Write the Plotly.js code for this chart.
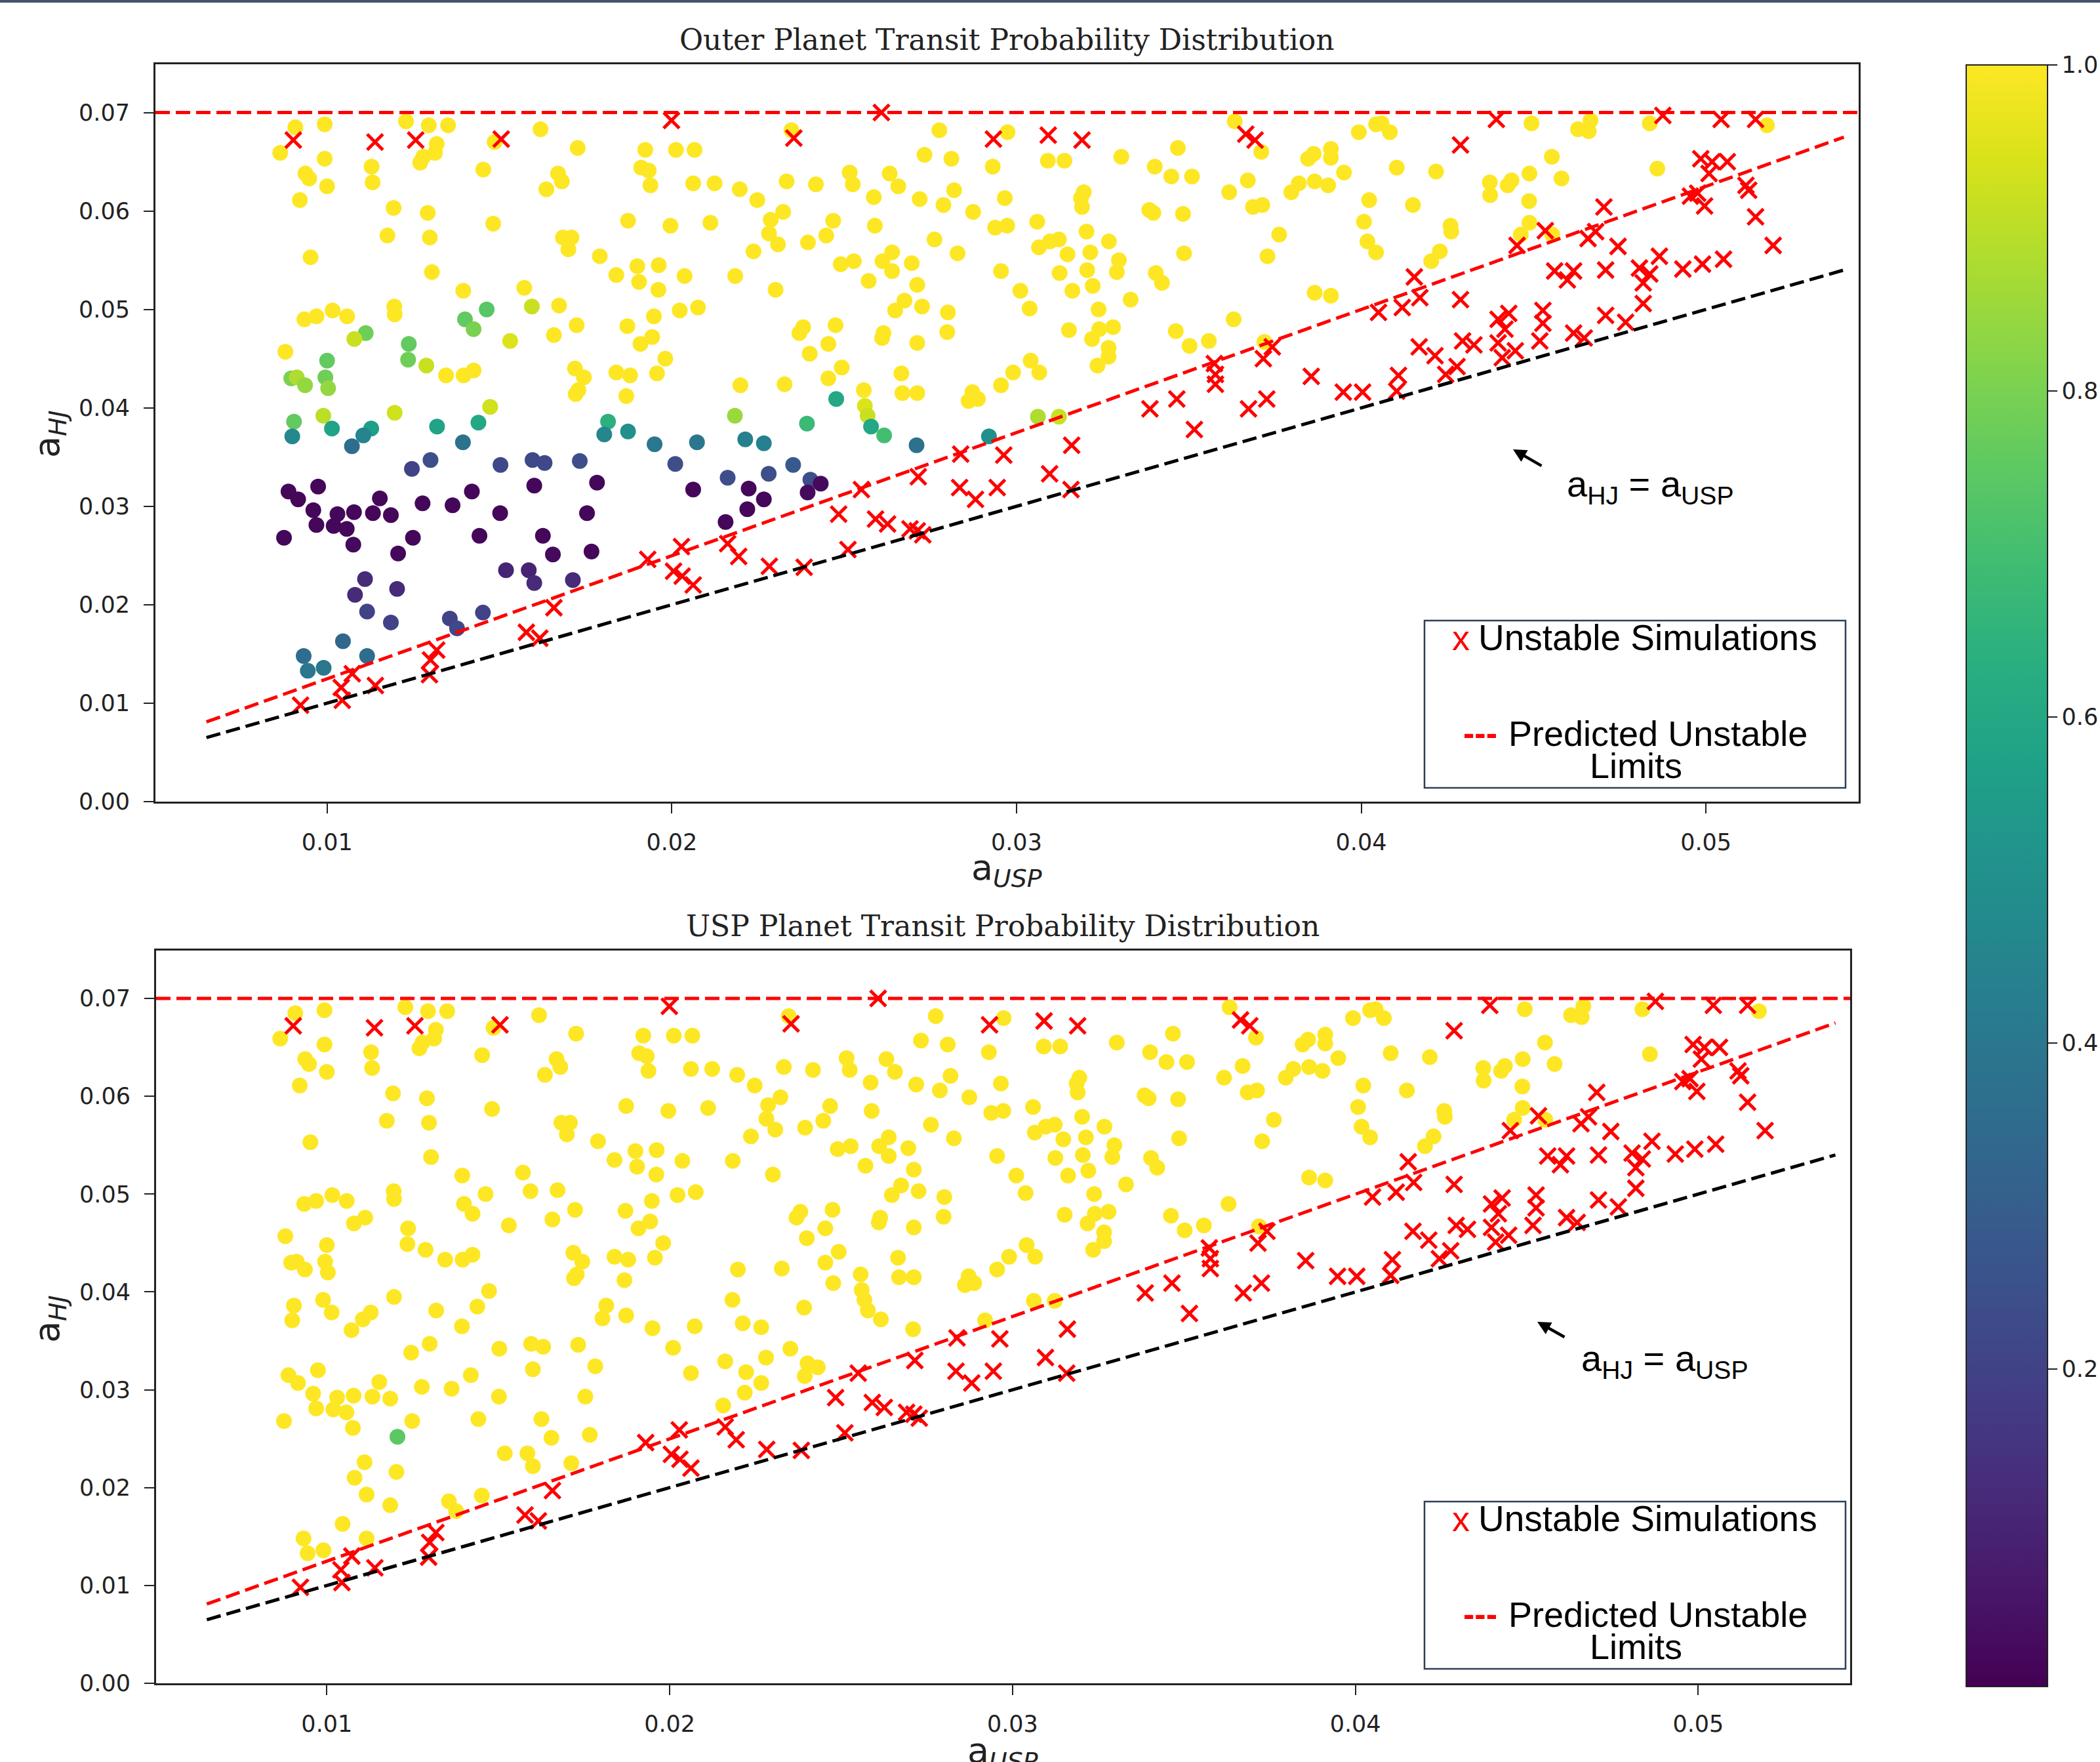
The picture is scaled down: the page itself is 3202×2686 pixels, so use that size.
<!DOCTYPE html>
<html>
<head>
<meta charset="utf-8">
<script src="https://cdn.plot.ly/plotly-3.0.1.min.js"></script>
<style>
  html, body { margin: 0; padding: 0; background: #ffffff; }
  #chart { width: 3202px; height: 2686px; }
</style>
</head>
<body>
<div id="chart"></div>
<script>
// ---------------- DATA ----------------
// Stable simulations (circles): a_USP, a_HJ
const stableX = [
0.00908,0.00993,0.00864,0.00993,0.00937,0.00948,0.01000,0.00921,0.00952,0.01129,
0.01132,0.01229,0.01295,0.01351,0.01318,0.01313,0.01279,0.01270,0.01486,0.01453,
0.01619,0.01727,0.01670,0.01681,0.01636,0.01923,0.02012,0.02066,0.01911,0.01933,
0.01938,0.02062,0.02124,0.01193,0.01292,0.01175,0.01298,0.01482,0.01304,0.01873,
0.01996,0.02112,0.01684,0.01709,0.01700,0.01791,0.01839,0.01900,0.01905,0.01962,
0.01961,0.02037,0.01395,0.01572,0.01673,0.00934,0.00969,0.01016,0.01058,0.01195,
0.01196,0.01724,0.01658,0.01871,0.01948,0.02023,0.02076,0.01943,0.01909,0.01981,
0.00879,0.01345,0.01396,0.01425,0.01719,0.01745,0.01729,0.01721,0.01839,0.01879,
0.01957,0.01868,
0.02347,0.02776,0.02974,0.03633,0.03710,0.02733,0.02811,0.02931,0.03091,0.03139,
0.03304,0.03468,0.03401,0.03449,0.03509,0.03671,0.03617,0.03686,0.03713,0.03728,
0.02197,0.02248,0.02333,0.02418,0.02516,0.02525,0.02632,0.02657,0.02586,0.02719,
0.02819,0.02788,0.02874,0.02966,0.03195,0.03187,0.03190,0.03385,0.03397,0.03483,
0.02323,0.02287,0.02282,0.02308,0.02237,0.02468,0.02448,0.02395,0.02589,0.02762,
0.02829,0.02938,0.02973,0.03060,0.03065,0.03097,0.03123,0.03148,0.03203,0.03214,
0.03268,0.03486,0.02184,0.02301,0.02490,0.02528,0.02611,0.02639,0.02639,0.02696,
0.02571,0.02712,0.02955,0.03011,0.03125,0.03205,0.03221,0.03162,0.03297,0.03291,
0.03404,0.03422,0.02675,0.02648,0.02726,0.02801,0.02799,0.03038,0.03238,0.03331,
0.03630,0.02370,0.02381,0.02475,0.02614,0.02610,0.02712,0.02454,0.02400,0.02493,
0.02454,0.03152,0.03219,0.03240,0.03280,0.03267,0.03267,0.03235,0.03462,0.03502,
0.03558,0.03719,0.03041,0.03066,0.02990,0.02955,0.02199,0.02327,0.02557,0.02666,
0.02669,0.02712,0.02872,0.02861,0.02888,
0.03993,0.04043,0.04059,0.04083,0.04494,0.04629,0.04665,0.04660,0.04837,0.05177,
0.03846,0.03862,0.03912,0.03912,0.03950,0.04103,0.04217,0.04553,0.04859,0.03797,
0.03819,0.03865,0.03904,0.04023,0.04150,0.04373,0.04374,0.04425,0.04436,0.04488,
0.04581,0.04487,0.03762,0.04008,0.04018,0.04043,0.04259,0.04261,0.04488,0.04463,
0.04554,0.04228,0.04203,0.03865,0.03912,
0.01112,0.01079,0.01237,0.01235,0.01288,0.01000,0.00995,0.01003,0.00896,0.00912,
0.00936,0.01400,0.01425,0.01463,0.01594,0.01531,0.01473,0.01196,0.00989,0.00904,
0.01815,0.02183,0.01014,0.00899,0.01128,0.01105,0.01319,0.01439,0.01072,0.01394,
0.01804,0.01873,0.01950,0.02073,0.02560,0.02568,0.02578,0.02616,0.02477,0.02392,
0.02213,0.02267,0.02710,0.02920,0.03062,0.03123,0.01246,0.01300,0.01503,0.01596,
0.01631,0.01733,0.02010,0.02162,0.02281,0.02352,0.02402,0.01116,0.01185,0.01356,
0.01377,0.01452,0.01046,0.00932,0.00944,0.00990,0.01116,0.01110,0.01081,0.01203,
0.01519,0.01585,0.01601,0.01713,
0.00888,0.00974,0.00916,0.00960,0.00969,0.01030,0.01078,0.01019,0.01057,0.01153,
0.01133,0.01185,0.01076,0.00875,0.01277,0.01364,0.01420,0.01249,0.01502,0.01442,
0.01601,0.01783,0.01754,0.01626,0.01655,0.01767,0.02062,0.02156,0.02432,0.02394,
0.02223,0.02267,0.02219,0.01206
];
const stableY = [
0.0685,0.0688,0.0659,0.0653,0.0638,0.0633,0.0625,0.0611,0.0553,0.0645,
0.0629,0.0691,0.0687,0.0687,0.0668,0.0659,0.0655,0.0649,0.0670,0.0642,
0.0683,0.0664,0.0638,0.0630,0.0622,0.0662,0.0662,0.0662,0.0644,0.0641,
0.0626,0.0628,0.0628,0.0603,0.0598,0.0575,0.0573,0.0587,0.0538,0.0590,
0.0585,0.0588,0.0573,0.0573,0.0561,0.0554,0.0535,0.0544,0.0528,0.0545,
0.0520,0.0534,0.0519,0.0522,0.0504,0.0490,0.0493,0.0499,0.0493,0.0503,
0.0495,0.0484,0.0474,0.0483,0.0493,0.0499,0.0502,0.0472,0.0465,0.0450,
0.0457,0.0433,0.0433,0.0438,0.0440,0.0431,0.0418,0.0414,0.0436,0.0433,
0.0435,0.0412,
0.0682,0.0682,0.0680,0.0691,0.0660,0.0657,0.0653,0.0645,0.0651,0.0651,
0.0655,0.0664,0.0645,0.0635,0.0635,0.0631,0.0619,0.0604,0.0606,0.0554,
0.0622,0.0611,0.0630,0.0627,0.0639,0.0627,0.0638,0.0625,0.0614,0.0612,
0.0621,0.0606,0.0599,0.0613,0.0619,0.0613,0.0604,0.0601,0.0598,0.0597,
0.0599,0.0591,0.0577,0.0566,0.0559,0.0590,0.0575,0.0568,0.0585,0.0571,
0.0557,0.0583,0.0585,0.0589,0.0563,0.0569,0.0571,0.0556,0.0579,0.0558,
0.0569,0.0557,0.0534,0.0520,0.0546,0.0549,0.0549,0.0558,0.0539,0.0547,
0.0529,0.0525,0.0539,0.0519,0.0537,0.0540,0.0524,0.0519,0.0550,0.0538,
0.0537,0.0527,0.0509,0.0499,0.0503,0.0497,0.0477,0.0501,0.0500,0.0510,
0.0490,0.0476,0.0482,0.0484,0.0476,0.0471,0.0466,0.0465,0.0455,0.0441,
0.0430,0.0479,0.0470,0.0480,0.0482,0.0461,0.0452,0.0443,0.0478,0.0463,
0.0468,0.0467,0.0448,0.0436,0.0436,0.0423,0.0423,0.0424,0.0418,0.0435,
0.0415,0.0415,0.0416,0.0407,0.0409,
0.0680,0.0688,0.0689,0.0680,0.0689,0.0683,0.0692,0.0681,0.0689,0.0687,
0.0653,0.0658,0.0663,0.0654,0.0639,0.0644,0.0640,0.0655,0.0643,0.0619,
0.0628,0.0630,0.0626,0.0611,0.0606,0.0629,0.0616,0.0626,0.0631,0.0638,
0.0633,0.0610,0.0576,0.0589,0.0569,0.0558,0.0585,0.0579,0.0588,0.0576,
0.0576,0.0559,0.0549,0.0517,0.0514,
0.0476,0.0470,0.0465,0.0449,0.0443,0.0448,0.0431,0.0420,0.0430,0.0431,
0.0423,0.0490,0.0480,0.0500,0.0503,0.0468,0.0401,0.0395,0.0392,0.0386,
0.0386,0.0392,0.0379,0.0371,0.0379,0.0372,0.0381,0.0385,0.0361,0.0365,
0.0373,0.0376,0.0363,0.0365,0.0402,0.0392,0.0381,0.0372,0.0409,0.0384,
0.0368,0.0364,0.0362,0.0371,0.0391,0.0391,0.0338,0.0347,0.0342,0.0347,
0.0344,0.0346,0.0343,0.0329,0.0333,0.0342,0.0327,0.0193,0.0182,0.0186,
0.0176,0.0192,0.0163,0.0148,0.0133,0.0136,0.0148,0.0226,0.0210,0.0216,
0.0235,0.0235,0.0222,0.0225,
0.0315,0.0320,0.0307,0.0296,0.0281,0.0292,0.0294,0.0280,0.0277,0.0308,
0.0293,0.0291,0.0261,0.0268,0.0303,0.0301,0.0315,0.0268,0.0293,0.0270,
0.0321,0.0324,0.0293,0.0270,0.0251,0.0254,0.0317,0.0284,0.0323,0.0314,
0.0318,0.0307,0.0297,0.0252
];
// Outer planet transit probability (top panel colour)
const outerProb = [
1,1,1,1,1,1,1,1,1,1,1,1,1,1,1,1,1,1,1,1,
1,1,1,1,1,1,1,1,1,1,1,1,1,1,1,1,1,1,1,1,
1,1,1,1,1,1,1,1,1,1,1,1,1,1,1,1,1,1,1,1,
1,1,1,1,1,1,1,1,1,1,1,1,1,1,1,1,1,1,1,1,
1,1,1,1,1,1,1,1,1,1,1,1,1,1,1,1,1,1,1,1,
1,1,1,1,1,1,1,1,1,1,1,1,1,1,1,1,1,1,1,1,
1,1,1,1,1,1,1,1,1,1,1,1,1,1,1,1,1,1,1,1,
1,1,1,1,1,1,1,1,1,1,1,1,1,1,1,1,1,1,1,1,
1,1,1,1,1,1,1,1,1,1,1,1,1,1,1,1,1,1,1,1,
1,1,1,1,1,1,1,1,1,1,1,1,1,1,1,1,1,1,1,1,
1,1,1,1,1,1,1,1,1,1,1,1,1,1,1,1,1,1,1,1,
1,1,1,1,1,1,1,1,1,1,1,1,1,1,1,1,1,1,1,1,
1,1,1,1,1,1,1,1,1,1,1,1,
0.78,0.92,0.76,0.78,0.92,0.76,0.78,0.84,0.80,0.88,
0.84,0.76,0.80,0.74,0.92,0.95,0.93,0.93,0.90,0.76,
0.64,0.85,0.58,0.47,0.56,0.45,0.58,0.60,0.36,0.38,
0.46,0.50,0.40,0.40,0.95,0.92,0.60,0.70,0.60,0.68,
0.44,0.44,0.38,0.50,0.88,0.92,0.20,0.24,0.22,0.22,
0.22,0.24,0.24,0.24,0.24,0.28,0.24,0.20,0.20,0.20,
0.22,0.20,0.34,0.36,0.40,0.40,0.36,0.12,0.12,0.12,
0.10,0.10,0.12,0.12,
0.02,0.02,0.02,0.02,0.02,0.02,0.02,0.02,0.02,0.02,
0.02,0.02,0.03,0.02,0.02,0.02,0.02,0.02,0.02,0.02,
0.02,0.02,0.02,0.02,0.03,0.02,0.02,0.02,0.03,0.03,
0.02,0.02,0.02,0.02
];
// USP planet transit probability (bottom panel colour)
const uspProb = [
1,1,1,1,1,1,1,1,1,1,1,1,1,1,1,1,1,1,1,1,
1,1,1,1,1,1,1,1,1,1,1,1,1,1,1,1,1,1,1,1,
1,1,1,1,1,1,1,1,1,1,1,1,1,1,1,1,1,1,1,1,
1,1,1,1,1,1,1,1,1,1,1,1,1,1,1,1,1,1,1,1,
1,1,1,1,1,1,1,1,1,1,1,1,1,1,1,1,1,1,1,1,
1,1,1,1,1,1,1,1,1,1,1,1,1,1,1,1,1,1,1,1,
1,1,1,1,1,1,1,1,1,1,1,1,1,1,1,1,1,1,1,1,
1,1,1,1,1,1,1,1,1,1,1,1,1,1,1,1,1,1,1,1,
1,1,1,1,1,1,1,1,1,1,1,1,1,1,1,1,1,1,1,1,
1,1,1,1,1,1,1,1,1,1,1,1,1,1,1,1,1,1,1,1,
1,1,1,1,1,1,1,1,1,1,1,1,1,1,1,1,1,1,1,1,
1,1,1,1,1,1,1,1,1,1,1,1,1,1,1,1,1,1,1,1,
1,1,1,1,1,1,1,1,1,1,1,1,1,1,1,1,1,1,1,1,
1,1,1,1,1,1,1,1,1,1,1,1,1,1,1,1,1,1,1,1,
1,1,1,1,1,1,1,1,1,1,1,1,1,1,1,1,1,1,1,1,
1,1,1,1,1,1,1,1,1,1,1,1,1,1,1,1,1,1,1,1,
1,1,1,1,1,1,1,1,1,1,1,1,1,1,1,1,1,1,1,1,
1,1,1,1,1,1,1,1,1,1,1,1,1,1,1,1,1,1,1,0.75
];
// Unstable simulations (red crosses)
const unstableX = [
0.00902,0.01139,0.01257,0.01505,0.01999,0.02608,0.02354,0.02933,0.03092,0.03190,
0.03665,0.03692,0.03742,0.03716,0.03574,0.03577,0.03577,0.03387,0.03465,0.03673,
0.03726,0.03516,0.03160,0.00923,0.01041,0.01044,0.01073,0.01140,0.01297,0.01300,
0.01318,0.01578,0.01617,0.01658,0.01930,0.02005,0.02030,0.02062,0.02028,0.02162,
0.02194,0.02283,0.02384,0.02511,0.02484,0.02550,0.02591,0.02626,0.02691,0.02712,
0.02728,0.02715,0.02838,0.02963,0.02835,0.02881,0.02944,0.03096,0.03158,0.04392,
0.04875,0.05044,0.05144,0.04288,0.04985,0.05018,0.05062,0.05009,0.05116,0.05124,
0.04955,0.04976,0.04996,0.05144,0.05195,0.04704,0.04534,0.04680,0.04658,0.04452,
0.04745,0.04865,0.04933,0.04990,0.05051,0.04561,0.04616,0.04598,0.04709,0.04807,
0.04837,0.04818,0.04818,0.04154,0.04170,0.04119,0.04050,0.04288,0.04397,0.04428,
0.04417,0.04527,0.04527,0.04709,0.04767,0.04168,0.04214,0.04294,0.04327,0.04397,
0.04447,0.04409,0.04518,0.04616,0.04647,0.04245,0.04278,0.04108,0.04103,0.03855,
0.03948,0.04004
];
const unstableY = [
0.0672,0.0670,0.0672,0.0673,0.0692,0.0700,0.0674,0.0673,0.0677,0.0672,
0.0678,0.0672,0.0462,0.0450,0.0445,0.0434,0.0424,0.0399,0.0409,0.0399,
0.0409,0.0378,0.0362,0.0098,0.0116,0.0103,0.0130,0.0118,0.0129,0.0144,
0.0154,0.0172,0.0166,0.0197,0.0246,0.0234,0.0229,0.0220,0.0259,0.0262,
0.0249,0.0239,0.0238,0.0256,0.0292,0.0317,0.0287,0.0282,0.0277,0.0275,
0.0271,0.0330,0.0353,0.0352,0.0319,0.0307,0.0319,0.0333,0.0317,0.0693,
0.0697,0.0693,0.0693,0.0667,0.0653,0.0650,0.0650,0.0638,0.0626,0.0621,
0.0615,0.0618,0.0605,0.0594,0.0565,0.0604,0.0580,0.0579,0.0572,0.0565,
0.0564,0.0554,0.0541,0.0546,0.0551,0.0539,0.0539,0.0530,0.0540,0.0542,
0.0536,0.0527,0.0506,0.0533,0.0512,0.0502,0.0497,0.0510,0.0490,0.0496,
0.0480,0.0499,0.0486,0.0494,0.0487,0.0462,0.0453,0.0468,0.0464,0.0466,
0.0458,0.0451,0.0468,0.0476,0.0471,0.0434,0.0442,0.0433,0.0417,0.0432,
0.0416,0.0416
];
// Reference lines
const lineX = [0.0065, 0.054];
const equalY = [0.0065, 0.054];          // a_HJ = a_USP
const predictedY = [0.0081, 0.0675];     // predicted unstable limit
const capX = [0.00502, 0.05443];
const capY = [0.07, 0.07];               // upper predicted limit
// Ticks
const xTickVals = [0.01, 0.02, 0.03, 0.04, 0.05];
const xTickText = ["0.01", "0.02", "0.03", "0.04", "0.05"];
const yTickVals = [0.00, 0.01, 0.02, 0.03, 0.04, 0.05, 0.06, 0.07];
const yTickText = ["0.00", "0.01", "0.02", "0.03", "0.04", "0.05", "0.06", "0.07"];
const cbTickVals = [0.2, 0.4, 0.6, 0.8, 1.0];
const cbTickText = ["0.2", "0.4", "0.6", "0.8", "1.0"];
// Texts
const titles = ["Outer Planet Transit Probability Distribution", "USP Planet Transit Probability Distribution"];
const legendTexts = ["Unstable Simulations", "Predicted Unstable", "Limits"];

// ---------------- LAYOUT HELPERS ----------------
const W = 3202, H = 2686;
const px = X => X / W;
const py = Y => 1 - Y / H;

const tickFont = { family: "DejaVu Sans", size: 35, color: "#222222" };
const sansFont = "Liberation Sans, Arial, sans-serif";

function axisX(domain, anchor) {
  return {
    domain: domain, anchor: anchor, range: [0.00502, 0.05443],
    tickmode: "array", tickvals: xTickVals, ticktext: xTickText,
    ticks: "outside", ticklen: 15, tickwidth: 2, tickcolor: "#222",
    ticklabelstandoff: 14,
    showline: true, linecolor: "#222", linewidth: 3, mirror: true,
    showgrid: false, zeroline: false, tickfont: tickFont, automargin: false
  };
}
function axisY(domain, anchor) {
  return {
    domain: domain, anchor: anchor, range: [0, 0.0749],
    tickmode: "array", tickvals: yTickVals, ticktext: yTickText,
    ticks: "outside", ticklen: 15, tickwidth: 2, tickcolor: "#222",
    ticklabelstandoff: 14,
    showline: true, linecolor: "#222", linewidth: 3, mirror: true,
    showgrid: false, zeroline: false, tickfont: tickFont, automargin: false
  };
}

function panelTraces(xa, ya, colours) {
  return [
    { type: "scatter", mode: "markers", x: stableX, y: stableY, xaxis: xa, yaxis: ya,
      marker: { size: 24, color: colours, coloraxis: "coloraxis", line: { width: 0 } },
      hoverinfo: "skip", showlegend: false },
    { type: "scatter", mode: "markers", x: unstableX, y: unstableY, xaxis: xa, yaxis: ya,
      marker: { symbol: "x-thin", size: 24, color: "#ff0000", line: { color: "#ff0000", width: 5 } },
      hoverinfo: "skip", showlegend: false },
    { type: "scatter", mode: "lines", x: capX, y: capY, xaxis: xa, yaxis: ya,
      line: { color: "#ff0000", width: 5, dash: "22px,9px" }, hoverinfo: "skip", showlegend: false },
    { type: "scatter", mode: "lines", x: lineX, y: predictedY, xaxis: xa, yaxis: ya,
      line: { color: "#ff0000", width: 5, dash: "22px,9px" }, hoverinfo: "skip", showlegend: false },
    { type: "scatter", mode: "lines", x: lineX, y: equalY, xaxis: xa, yaxis: ya,
      line: { color: "#000000", width: 5, dash: "22px,9px" }, hoverinfo: "skip", showlegend: false }
  ];
}

const traces = [].concat(panelTraces("x", "y", outerProb), panelTraces("x2", "y2", uspProb));

function panelAnnotations(dy, titleText, titleX, titleY, xTitleX, xTitleY, yTitleY) {
  return [
    { text: titleText, x: px(titleX), y: py(titleY), xref: "paper", yref: "paper",
      xanchor: "center", yanchor: "middle", showarrow: false,
      font: { family: "DejaVu Serif", size: 44, color: "#222" } },
    { text: "a<sub><i>USP</i></sub>", x: px(xTitleX), y: py(xTitleY), xref: "paper", yref: "paper",
      xanchor: "center", yanchor: "middle", showarrow: false,
      font: { family: "DejaVu Sans", size: 54, color: "#222" } },
    { text: "a<sub><i>HJ</i></sub>", x: px(75), y: py(yTitleY), xref: "paper", yref: "paper",
      xanchor: "center", yanchor: "middle", showarrow: false, textangle: -90,
      font: { family: "DejaVu Sans", size: 54, color: "#222" } },
    // legend texts
    { text: "x", x: px(2227), y: py(972 + dy), xref: "paper", yref: "paper",
      xanchor: "center", yanchor: "middle", showarrow: false,
      font: { family: sansFont, size: 54, color: "#ff0000" } },
    { text: legendTexts[0], x: px(2252), y: py(972 + dy), xref: "paper", yref: "paper",
      xanchor: "left", yanchor: "middle", showarrow: false,
      font: { family: sansFont, size: 55, color: "#000" } },
    { text: "<b>---</b>", x: px(2257), y: py(1117 + dy), xref: "paper", yref: "paper",
      xanchor: "center", yanchor: "middle", showarrow: false,
      font: { family: sansFont, size: 52, color: "#ff0000" } },
    { text: legendTexts[1], x: px(2298), y: py(1118 + dy), xref: "paper", yref: "paper",
      xanchor: "left", yanchor: "middle", showarrow: false,
      font: { family: sansFont, size: 54, color: "#000" } },
    { text: legendTexts[2], x: px(2494), y: py(1167 + dy), xref: "paper", yref: "paper",
      xanchor: "center", yanchor: "middle", showarrow: false,
      font: { family: sansFont, size: 54, color: "#000" } }
  ];
}

const annotations = [].concat(
  panelAnnotations(0, titles[0], 1535, 61, 1535, 1326, 662),
  panelAnnotations(1343, titles[1], 1529, 1411, 1529, 2672, 2011),
  [
    { text: "a<sub>HJ</sub> = a<sub>USP</sub>", x: px(2516), y: py(741), xref: "paper", yref: "paper",
      xanchor: "center", yanchor: "middle", showarrow: false,
      font: { family: sansFont, size: 56, color: "#000" } },
    { text: "a<sub>HJ</sub> = a<sub>USP</sub>", x: px(2538), y: py(2074), xref: "paper", yref: "paper",
      xanchor: "center", yanchor: "middle", showarrow: false,
      font: { family: sansFont, size: 56, color: "#000" } },
    { text: "", x: px(2307), y: py(685), xref: "paper", yref: "paper", showarrow: true,
      ax: 45, ay: 26, arrowhead: 2, arrowsize: 0.9, arrowwidth: 4.5, arrowcolor: "#000", standoff: 0 },
    { text: "", x: px(2344), y: py(2015), xref: "paper", yref: "paper", showarrow: true,
      ax: 43, ay: 24, arrowhead: 2, arrowsize: 0.9, arrowwidth: 4.5, arrowcolor: "#000", standoff: 0 }
  ]
);

function legendBox(dy) {
  return { type: "rect", xref: "paper", yref: "paper", layer: "above",
    x0: px(2172), x1: px(2814), y0: py(1201 + dy), y1: py(946 + dy),
    line: { color: "#2e3f57", width: 2.5 }, fillcolor: "rgba(255,255,255,1)" };
}

const shapes = [
  legendBox(0), legendBox(1343),
  { type: "rect", xref: "paper", yref: "paper", x0: 0, x1: 1, y0: py(4), y1: 1,
    line: { width: 0 }, fillcolor: "#44546a", layer: "above" }
];

const layout = {
  width: W, height: H,
  margin: { l: 0, r: 0, t: 0, b: 0, autoexpand: false },
  paper_bgcolor: "#ffffff", plot_bgcolor: "#ffffff",
  font: { family: "DejaVu Sans", color: "#222" },
  showlegend: false, hovermode: false,
  xaxis: axisX([px(237), px(2834)], "y"),
  yaxis: axisY([py(1222), py(98)], "x"),
  xaxis2: axisX([px(238), px(2821)], "y2"),
  yaxis2: axisY([py(2566), py(1449)], "x2"),
  coloraxis: {
    colorscale: "Viridis", cmin: 0.005, cmax: 1.0,
    colorbar: {
      x: px(2998), xanchor: "left", xref: "paper",
      y: py(1335), yanchor: "middle", yref: "paper",
      len: 2472 / H, lenmode: "fraction",
      thickness: 124, thicknessmode: "pixels",
      xpad: 0, ypad: 0,
      outlinewidth: 2, outlinecolor: "#222",
      ticks: "outside", ticklen: 14, tickwidth: 2, tickcolor: "#222",
      tickmode: "array", tickvals: cbTickVals, ticktext: cbTickText,
      tickfont: tickFont
    }
  },
  annotations: annotations,
  shapes: shapes
};

Plotly.newPlot("chart", traces, layout, { displayModeBar: false, staticPlot: true });
</script>
</body>
</html>
